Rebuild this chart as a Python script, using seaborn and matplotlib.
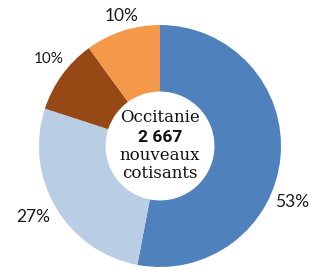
import matplotlib
matplotlib.use("Agg")
import matplotlib.pyplot as plt
import seaborn as sns

# Données : répartition des nouveaux cotisants (Occitanie)
parts = [53, 27, 10, 10]
pct_labels = ["53%", "27%", "10%", "10%"]
colors = ["#4f81bd", "#b9cde5", "#974915", "#f4994a"]
center_lines = ["Occitanie", "2 667", "nouveaux", "cotisants"]

sns.set_style("white")
plt.rcParams["font.family"] = ["Lato", "DejaVu Sans"]

fig = plt.figure(figsize=(3.2, 2.69), dpi=100)
ax = fig.add_axes([0, 0, 1, 1])

cx, cy, r = 160, 123, 121
ax.pie(
    parts,
    colors=colors,
    startangle=90,
    counterclock=False,
    center=(cx, cy),
    radius=r,
    wedgeprops=dict(width=r * 0.55, edgecolor="none"),
    frame=True,
)
ax.set_xlim(0, 320)
ax.set_ylim(0, 269)
ax.set_aspect("equal")
ax.axis("off")

# positions des étiquettes (pixels depuis le haut)
label_pos = [(292, 202), (33, 217), (49, 59), (122, 16)]
label_size = [12.5, 12.5, 11, 12.5]
for txt, (x, y), s in zip(pct_labels, label_pos, label_size):
    ax.text(x, 269 - y, txt, ha="center", va="center", fontsize=s, color="#1a1a1a")

line_y = [118, 137, 156, 174]
for i, (txt, y) in enumerate(zip(center_lines, line_y)):
    if i == 1:
        ax.text(cx, 269 - y, txt, ha="center", va="center", fontsize=12.5,
                family=["Roboto", "DejaVu Sans"], fontweight="bold", color="#111111")
    else:
        ax.text(cx, 269 - y, txt, ha="center", va="center", fontsize=12,
                family=["DejaVu Serif"], color="#111111")

fig.savefig("out.png", dpi=100, facecolor="white")
